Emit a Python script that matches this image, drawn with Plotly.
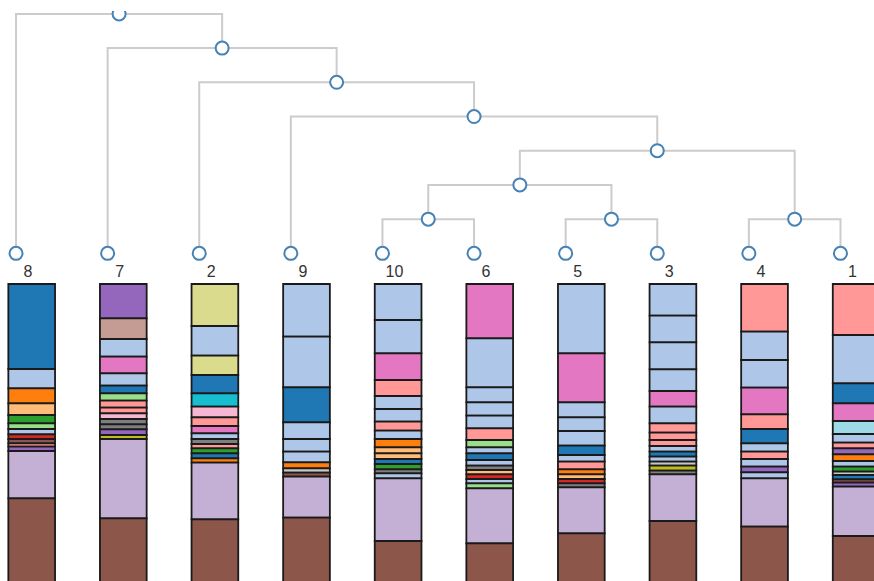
import numpy as np
import plotly.graph_objects as go

# ---- data -----------------------------------------------------------------
# leaf order along the x axis
leaves = ["8", "7", "2", "9", "10", "6", "5", "3", "4", "1"]

# cluster merges: (left, right, merge height)
merges = {
    "G": ("10", "6", 1),
    "H": ("5", "3", 1),
    "F": ("4", "1", 1),
    "E": ("G", "H", 2),
    "D": ("E", "F", 3),
    "C": ("9", "D", 4),
    "B": ("2", "C", 5),
    "A": ("7", "B", 6),
    "R": ("8", "A", 7),
}

# composition of each leaf, listed top to bottom: segment sizes and category ids
sizes_8 = [85, 19.3, 15, 11.7, 8.3, 5.7, 5.3, 4.7, 4.3, 3.4, 4.3, 47.3, 141.7]
cats_8 = [0, 1, 2, 3, 4, 5, 1, 6, 10, 7, 8, 9, 10]

sizes_7 = [34.3, 20.7, 17.7, 16.6, 12.4, 7.6, 7.4, 7, 5.6, 5.7, 5.3, 5, 5.7, 4, 79.3, 121.7]
cats_7 = [8, 11, 1, 12, 1, 0, 5, 7, 7, 13, 14, 14, 8, 16, 9, 10]

sizes_2 = [42, 29.7, 19.3, 18.3, 13.4, 10.6, 8.7, 7.3, 5.7, 5, 4.3, 5, 5, 4.4, 56.6, 120.7]
cats_2 = [17, 1, 17, 0, 18, 13, 7, 12, 1, 14, 7, 4, 0, 2, 9, 10]

sizes_9 = [52.7, 50.6, 35, 16.7, 12.7, 10.6, 6, 4.4, 4, 41, 122.3]
cats_9 = [1, 1, 0, 1, 1, 1, 2, 15, 10, 9, 10]

sizes_10 = [36, 33.3, 26.7, 16, 13, 12.7, 9, 8.3, 8.3, 6, 5.7, 5, 5.3, 4, 5, 62.7, 99]
cats_10 = [1, 1, 12, 7, 1, 1, 7, 1, 2, 3, 3, 0, 4, 14, 1, 9, 10]

sizes_6 = [54.3, 49, 15, 13.4, 12.6, 11.7, 7.3, 6, 6.7, 5.7, 4.3, 4.3, 4.7, 4.3, 5, 55, 96.7]
cats_6 = [12, 1, 1, 1, 1, 7, 5, 1, 0, 1, 14, 3, 6, 1, 5, 9, 10]

sizes_5 = [69.3, 49, 15, 13.7, 14.7, 9.3, 6.7, 7.6, 5, 4.7, 4.3, 4, 46, 106.7]
cats_5 = [1, 12, 1, 1, 1, 0, 1, 7, 2, 3, 6, 14, 9, 10]

sizes_3 = [31.7, 26.6, 27, 21.7, 15.7, 16.6, 9.4, 7.3, 6, 5.7, 5, 5, 4, 5, 3.6, 46.7, 119]
cats_3 = [1, 1, 1, 1, 12, 1, 7, 7, 7, 1, 0, 1, 15, 16, 14, 9, 10]

sizes_4 = [47.7, 28.3, 27.7, 26.6, 14.7, 14.3, 8.4, 7.3, 7.7, 5.6, 6, 48.4, 113.3]
cats_4 = [7, 1, 1, 12, 7, 0, 1, 7, 1, 8, 1, 9, 10]

sizes_1 = [51, 48.3, 20, 17.7, 13, 8.7, 5.6, 6, 6.7, 5.7, 5, 3.3, 4.3, 3.4, 4, 49.3, 104]
cats_1 = [7, 1, 0, 12, 19, 1, 7, 8, 2, 1, 4, 15, 0, 10, 8, 9, 10]

leaf_sizes = {"8": sizes_8, "7": sizes_7, "2": sizes_2, "9": sizes_9, "10": sizes_10,
              "6": sizes_6, "5": sizes_5, "3": sizes_3, "4": sizes_4, "1": sizes_1}
leaf_cats = {"8": cats_8, "7": cats_7, "2": cats_2, "9": cats_9, "10": cats_10,
             "6": cats_6, "5": cats_5, "3": cats_3, "4": cats_4, "1": cats_1}

# ---- styling --------------------------------------------------------------
palette = ["#1f77b4", "#aec7e8", "#ff7f0e", "#ffbb78", "#2ca02c", "#98df8a",
           "#d62728", "#ff9896", "#9467bd", "#c5b0d5", "#8c564b", "#c49c94",
           "#e377c2", "#f7b6d2", "#7f7f7f", "#c7c7c7", "#bcbd22", "#dbdb8d",
           "#17becf", "#9edae5"]
LINK_COLOR = "#cccccc"
NODE_COLOR = "#4682b4"
BAR_WIDTH = 0.51
LEAF_SHIFT = -0.171     # dendrogram leaves sit left of the bar centres
LABEL_SHIFT = -0.04
LABEL_LEVEL = -0.57

fig = go.Figure()

# stacked composition bars (y axis runs downward from the bar tops)
for i, name in enumerate(leaves):
    sz = np.array(leaf_sizes[name], dtype=float)
    base = np.concatenate([[0.0], np.cumsum(sz)[:-1]])
    fig.add_trace(go.Bar(
        x=[i] * len(sz), y=sz, base=base, width=BAR_WIDTH,
        marker=dict(color=[palette[c] for c in leaf_cats[name]],
                    line=dict(color="#1a1a1a", width=1.8)),
        hoverinfo="skip", showlegend=False,
    ))

# dendrogram node coordinates
pos = {name: (i + LEAF_SHIFT, 0.0) for i, name in enumerate(leaves)}
for node, (a, b, h) in merges.items():
    pos[node] = ((pos[a][0] + pos[b][0]) / 2.0, float(h))

lx, ly = [], []
for node, (a, b, h) in merges.items():
    xa, ya = pos[a]
    xb, yb = pos[b]
    lx += [xa, xa, xb, xb, None]
    ly += [ya, h, h, yb, None]

fig.add_trace(go.Scatter(x=lx, y=ly, mode="lines", yaxis="y2",
                         line=dict(color=LINK_COLOR, width=2),
                         hoverinfo="skip", showlegend=False))

names = list(pos.keys())
fig.add_trace(go.Scatter(
    x=[pos[n][0] for n in names], y=[pos[n][1] for n in names],
    mode="markers", yaxis="y2",
    marker=dict(size=13, color="white", line=dict(color=NODE_COLOR, width=2)),
    hoverinfo="skip", showlegend=False,
))

# leaf labels
fig.add_trace(go.Scatter(
    x=[i + LABEL_SHIFT for i in range(len(leaves))],
    y=[LABEL_LEVEL] * len(leaves), text=leaves,
    mode="text", yaxis="y2",
    textfont=dict(family="Liberation Sans, Arial, sans-serif", size=16, color="#333333"),
    hoverinfo="skip", showlegend=False,
))

fig.update_layout(
    width=874, height=581, autosize=False,
    margin=dict(l=0, r=0, t=11, b=0, pad=0),
    paper_bgcolor="white", plot_bgcolor="white",
    barmode="overlay",
    xaxis=dict(range=[-0.346, 9.195], visible=False, fixedrange=True),
    yaxis=dict(range=[297, -273], visible=False, fixedrange=True),
    yaxis2=dict(range=[-9.58, 7.085], overlaying="y", visible=False, fixedrange=True),
)

fig.write_html("out.html")
